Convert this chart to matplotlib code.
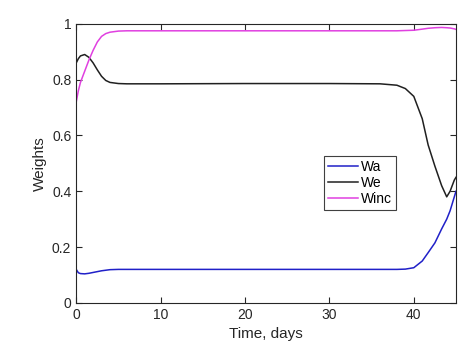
import matplotlib
matplotlib.use("Agg")
import matplotlib.pyplot as plt

plt.rcParams['font.family'] = ['Liberation Sans', 'DejaVu Sans']

# time points (days)
t = [0, 0.25, 0.5, 1, 1.5, 2, 2.5, 3, 3.5, 4, 5, 6, 10, 20, 30, 36, 38, 39, 40, 41, 41.7, 42.5, 43.3, 43.9, 44.3, 44.8, 45]

wa = [0.12, 0.108, 0.105, 0.104, 0.106, 0.109, 0.112, 0.115, 0.117, 0.119, 0.12, 0.12, 0.12, 0.12, 0.12, 0.12, 0.12,
      0.121, 0.126, 0.15, 0.18, 0.215, 0.265, 0.30, 0.33, 0.38, 0.40]
we = [0.86, 0.875, 0.885, 0.89, 0.88, 0.86, 0.835, 0.812, 0.797, 0.79, 0.786, 0.785, 0.785, 0.786, 0.786, 0.785, 0.78,
      0.768, 0.74, 0.66, 0.566, 0.49, 0.42, 0.38, 0.40, 0.44, 0.45]
winc = [0.72, 0.76, 0.79, 0.83, 0.87, 0.905, 0.935, 0.955, 0.965, 0.97, 0.974, 0.975, 0.975, 0.975, 0.975, 0.975, 0.975,
        0.976, 0.977, 0.981, 0.984, 0.986, 0.987, 0.986, 0.985, 0.982, 0.98]

fig = plt.figure(figsize=(4.62, 3.61), dpi=100)
ax = fig.add_axes([0.165, 0.161, 0.822, 0.773])

ax.plot(t, wa, color='#2020c8', lw=1.1, label='Wa')
ax.plot(t, we, color='#202020', lw=1.1, label='We')
ax.plot(t, winc, color='#e040e0', lw=1.1, label='Winc')

ax.set_xlim(0, 45)
ax.set_ylim(0, 1)
ax.set_xticks([0, 10, 20, 30, 40])
ax.set_yticks([0, 0.2, 0.4, 0.6, 0.8, 1])
ax.set_yticklabels(['0', '0.2', '0.4', '0.6', '0.8', '1'])
for s in ax.spines.values():
    s.set_color('#262626')
ax.tick_params(direction='in', length=4, labelsize=10, colors='#262626', top=True, right=True,
               labeltop=False, labelright=False)
ax.set_xlabel('Time, days', fontsize=11, color='#262626')
ax.set_ylabel('Weights', fontsize=11, color='#262626')

leg = ax.legend(loc='center', bbox_to_anchor=(0.747, 0.43), fontsize=10, fancybox=False,
                framealpha=1, edgecolor='#404040', handlelength=2.2, handletextpad=0.2,
                borderpad=0.3, labelspacing=0.15, borderaxespad=0)
leg.get_frame().set_linewidth(0.8)

plt.savefig('out.png', dpi=100)
